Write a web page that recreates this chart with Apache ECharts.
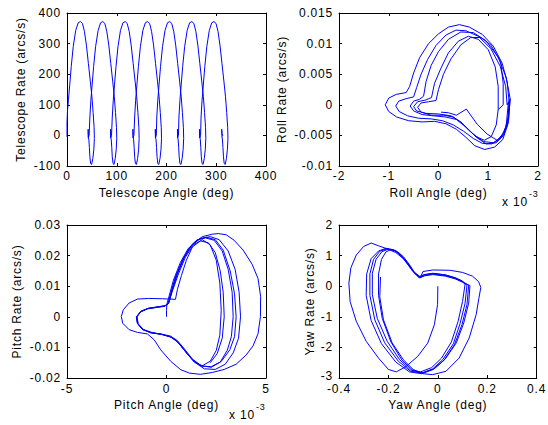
<!DOCTYPE html>
<html>
<head>
<meta charset="utf-8">
<script src="https://cdn.jsdelivr.net/npm/echarts@6/dist/echarts.min.js"></script>
<style>
  html, body { margin: 0; padding: 0; background: #fff; }
  #chart { width: 548px; height: 425px; }
  #chart svg text { letter-spacing: 0.8px; }
</style>
</head>
<body>
<div id="chart"></div>
<script>
// ---------- Telescope: angle (deg) vs rate (arcs/s) ----------
const telescopePath = [
  [0,-5],[0,40],[1,80],[3,118],[5.5,165],[8.5,225],[12.5,290],[17.5,343],[22.5,368],[27,372],[31,366],[35,340],[39,295],[43,235],[47,175],[50,128],[52.5,75],[54.5,25],[55,-10],[54,-45],[52,-75],[49.5,-95],[47.5,-92],[46,-70],[45,-40],[44,-15],[43,-5],[42.5,20],[42.7,-8],[44.5,0],
  [46,60],[48,115],[50.5,165],[53.5,225],[57.5,290],[62.5,343],[67.5,368],[72,372],[76,366],[80,340],[84,295],[88,235],[92,175],[95,128],[97.5,75],[99.5,25],[100,-10],[99,-45],[97,-75],[94.5,-95],[92.5,-92],[91,-70],[90,-40],[89,-15],[88,-5],[87.5,20],[87.7,-8],[89.5,0],
  [91,60],[93,115],[95.5,165],[98.5,225],[102.5,290],[107.5,343],[112.5,368],[117,372],[121,366],[125,340],[129,295],[133,235],[137,175],[140,128],[142.5,75],[144.5,25],[145,-10],[144,-45],[142,-75],[139.5,-95],[137.5,-92],[136,-70],[135,-40],[134,-15],[133,-5],[132.5,20],[132.7,-8],[134.5,0],
  [136,60],[138,115],[140.5,165],[143.5,225],[147.5,290],[152.5,343],[157.5,368],[162,372],[166,366],[170,340],[174,295],[178,235],[182,175],[185,128],[187.5,75],[189.5,25],[190,-10],[189,-45],[187,-75],[184.5,-95],[182.5,-92],[181,-70],[180,-40],[179,-15],[178,-5],[177.5,20],[177.7,-8],[179.5,0],
  [180.5,60],[182.5,115],[185,165],[188,225],[192,290],[197,343],[202,368],[206.5,372],[210.5,366],[214.5,340],[218.5,295],[222.5,235],[226.5,175],[229.5,128],[232,75],[234,25],[234.5,-10],[233.5,-45],[231.5,-75],[229,-95],[227,-92],[225.5,-70],[224.5,-40],[223.5,-15],[222.5,-5],[222,20],[222.2,-8],[224,0],
  [225,60],[227,115],[229.5,165],[232.5,225],[236.5,290],[241.5,343],[246.5,368],[251,372],[255,366],[259,340],[263,295],[267,235],[271,175],[274,128],[276.5,75],[278.5,25],[279,-10],[278,-45],[276,-75],[273.5,-95],[271.5,-92],[270,-70],[269,-40],[268,-15],[267,-5],[266.5,20],[266.7,-8],[268.5,0],
  [269.5,60],[271.5,115],[274,165],[277,225],[281,290],[286,343],[291,368],[295.5,372],[299.5,366],[303.5,340],[307.5,295],[311.5,235],[315.5,175],[318.5,128],[321,75],[323,25],[323.5,-10],[322.5,-45],[320.5,-75],[318,-95],[316,-92],[314.5,-70],[313.5,-40],[312.5,-15],[311.5,-5],[311,20],[311.5,5],[313,0],[312,-3]
];
const telescopeXTicks = [0, 400, 100];
const telescopeYTicks = [-100, 400, 100];

// ---------- Roll: angle (x 10^-3 deg) vs rate (arcs/s) ----------
const rollPath = [
  [0.05,-0.0012],[0.2,-0.0013],[0.36,-0.0017],[0.56,-0.0007],[0.63,-0.0015],[0.78,-0.0032],[0.98,-0.0048],[1.18,-0.0058],[1.32,-0.0045],[1.4,-0.002],[1.42,0.0005],
  [1.39,-0.0033],[1.29,-0.0057],[1.13,-0.0069],[0.93,-0.0073],[0.73,-0.0067],[0.55,-0.0053],[0.36,-0.004],[0.15,-0.0031],[-0.08,-0.0027],[-0.33,-0.0028],[-0.6,-0.0026],[-0.84,-0.002],[-1.0,-0.0011],[-1.07,0.0],[-1.0,0.0011],[-0.85,0.0017],[-0.65,0.002],[-0.58,0.003],[-0.5,0.0052],[-0.38,0.0077],[-0.2,0.01],[0.0,0.0116],[0.2,0.0127],[0.42,0.0131],[0.62,0.0127],[0.88,0.0115],[1.1,0.0096],[1.28,0.0068],[1.38,0.0037],[1.42,0.0005],
  [1.4,0.0],[1.36,-0.0035],[1.24,-0.0056],[1.07,-0.0064],[0.88,-0.0063],[0.7,-0.0055],[0.5,-0.0043],[0.3,-0.0033],[0.08,-0.0026],[-0.15,-0.0023],[-0.4,-0.0022],[-0.62,-0.0018],[-0.79,-0.0011],[-0.86,-0.0002],[-0.8,0.0006],[-0.65,0.001],[-0.5,0.0013],[-0.44,0.0028],[-0.35,0.005],[-0.22,0.0074],[-0.05,0.0097],[0.15,0.0114],[0.35,0.0122],[0.55,0.0121],[0.8,0.0112],[1.05,0.0092],[1.24,0.0063],[1.35,0.003],[1.38,0.0],
  [1.44,0.001],[1.41,-0.0025],[1.31,-0.005],[1.16,-0.0062],[0.96,-0.0064],[0.76,-0.0053],[0.56,-0.0037],[0.36,-0.0024],[0.15,-0.002],[-0.1,-0.0018],[-0.33,-0.0016],[-0.5,-0.001],[-0.57,-0.0002],[-0.5,0.0006],[-0.38,0.0009],[-0.3,0.0014],[-0.25,0.0038],[-0.15,0.0064],[0.0,0.0087],[0.2,0.0107],[0.45,0.0119],[0.7,0.0118],[0.95,0.0105],[1.2,0.0078],[1.36,0.0045],[1.44,0.001],
  [1.43,0.0],[1.4,-0.003],[1.28,-0.0052],[1.1,-0.0062],[0.9,-0.006],[0.7,-0.0048],[0.5,-0.0032],[0.3,-0.002],[0.1,-0.0017],[-0.15,-0.0017],[-0.35,-0.0012],[-0.42,-0.0004],[-0.35,0.0003],[-0.2,0.0005],[-0.05,0.0007],[0.0,0.0025],[0.1,0.005],[0.25,0.0075],[0.45,0.0098],[0.65,0.011],[0.85,0.011],[1.05,0.0098],[1.25,0.007],[1.3,0.0035],[1.3,0.0],
  [1.2,-0.0008],[1.16,-0.0033],[1.06,-0.0052],[0.92,-0.0058],[0.76,-0.0052],[0.6,-0.0041],[0.45,-0.0028],[0.25,-0.0018],[0.0,-0.0015],[-0.25,-0.0014],[-0.44,-0.001],[-0.5,-0.0003],[-0.42,0.0005],[-0.25,0.0008],[-0.14,0.0012],[-0.08,0.0035],[0.05,0.006],[0.2,0.0085],[0.4,0.0104],[0.6,0.0112],[0.8,0.0107],[1.0,0.009],[1.14,0.0062],[1.2,0.003],[1.2,-0.0008]
];
const rollXTicks = [-2, 2, 1];
const rollYTicks = [-0.01, 0.015, 0.005];

// ---------- Pitch: angle (x 10^-3 deg) vs rate (arcs/s) ----------
const pitchPath = [
  [0,0],[0,0.002],[0.02,0.0042],
  [0.12,0.0065],[0.35,0.012],[0.7,0.0178],[1.08,0.0222],[1.5,0.025],[1.95,0.0258],[2.4,0.025],[2.8,0.0215],[3.1,0.0155],[3.3,0.008],[3.35,0.0],[3.26,-0.0065],[3.05,-0.011],[2.7,-0.0148],[2.25,-0.0165],[1.75,-0.016],[1.3,-0.0138],[0.9,-0.0105],[0.55,-0.0078],[0.2,-0.0063],[-0.3,-0.0056],[-0.8,-0.0052],[-1.2,-0.0041],[-1.45,-0.0022],[-1.5,0.0],[-1.3,0.0017],[-0.95,0.0027],[-0.45,0.0032],[-0.1,0.0035],[0.08,0.0042],
  [0.2,0.0075],[0.45,0.013],[0.8,0.0185],[1.15,0.0225],[1.55,0.0252],[2.0,0.026],[2.45,0.0252],[2.85,0.0218],[3.2,0.015],[3.42,0.0075],[3.5,0.0],[3.42,-0.0065],[3.18,-0.0108],[2.75,-0.0146],[2.25,-0.0163],[1.75,-0.0161],[1.3,-0.014],[0.88,-0.0108],[0.52,-0.008],[0.18,-0.0065],[-0.3,-0.0057],[-0.8,-0.0052],[-1.22,-0.0041],[-1.47,-0.0021],[-1.52,0.0],[-1.3,0.0016],[-0.95,0.0026],[-0.45,0.0031],[-0.1,0.0034],[0.1,0.0044],
  [0.3,0.0085],[0.6,0.014],[0.95,0.0195],[1.35,0.0235],[1.8,0.0252],[2.2,0.0235],[2.5,0.0185],[2.68,0.011],[2.75,0.002],[2.68,-0.006],[2.5,-0.011],[2.2,-0.0145],[1.8,-0.016],[1.4,-0.0148],[1.0,-0.0118],[0.65,-0.0088],[0.3,-0.0068],[-0.2,-0.0058],[-0.7,-0.0052],[-1.15,-0.0042],[-1.42,-0.0023],[-1.48,0.0],[-1.28,0.0018],[-0.9,0.0028],[-0.4,0.0033],[-0.05,0.0037],[0.12,0.0046],
  [0.25,0.008],[0.5,0.0135],[0.85,0.019],[1.25,0.0232],[1.7,0.0256],[2.2,0.0262],[2.65,0.0252],[3.1,0.0215],[3.45,0.0155],[3.65,0.008],[3.72,0.0],[3.62,-0.007],[3.35,-0.0118],[2.95,-0.0155],[2.45,-0.0172],[1.9,-0.017],[1.4,-0.0148],[0.95,-0.0113],[0.58,-0.0083],[0.22,-0.0066],[-0.25,-0.0057],[-0.75,-0.0052],[-1.2,-0.0042],[-1.45,-0.0022],[-1.5,0.0],[-1.3,0.0017],[-0.95,0.0027],[-0.45,0.0032],[-0.1,0.0035],[0.1,0.0044],
  [0.28,0.0085],[0.55,0.014],[0.9,0.0195],[1.3,0.0237],[1.8,0.0262],[2.3,0.027],[2.6,0.0272],[3.0,0.0268],[3.4,0.025],[3.85,0.0218],[4.3,0.0172],[4.6,0.0125],[4.73,0.0066],[4.72,0.0],[4.6,-0.0055],[4.35,-0.0095],[4.0,-0.0125],[3.5,-0.0155],[2.9,-0.0172],[2.3,-0.0182],[1.7,-0.0188],[1.15,-0.0184],[0.72,-0.0173],[0.22,-0.0146],[-0.29,-0.0108],[-0.62,-0.0075],[-0.96,-0.0056],[-1.46,-0.0051],[-1.88,-0.0042],[-2.2,-0.0021],[-2.27,0.0001],[-2.17,0.0023],[-1.88,0.0045],[-1.46,0.0058],[-0.9,0.006],[-0.2,0.0059],[0.45,0.0057],
  [0.55,0.009],[0.75,0.0135],[1.0,0.0185],[1.3,0.0228],[1.7,0.0248],[2.1,0.0242],[2.45,0.021],[2.7,0.015],[2.85,0.008],[2.9,0.0],[2.8,-0.007],[2.55,-0.012],[2.2,-0.015]
];
const pitchXTicks = [-5, 5, 5];
const pitchYTicks = [-0.02, 0.03, 0.01];

// ---------- Yaw: angle (deg) vs rate (arcs/s) ----------
const yawPath = [
  [0,0],[-0.001,-0.6],[-0.014,-1.26],[-0.041,-1.86],[-0.081,-2.29],[-0.128,-2.62],[-0.168,-2.8],[-0.2,-2.72],[-0.24,-2.35],[-0.29,-1.8],[-0.33,-1.15],[-0.355,-0.5],[-0.36,0.1],[-0.352,0.6],[-0.33,1.02],[-0.3,1.3],[-0.27,1.41],[-0.24,1.32],[-0.205,1.22],[-0.17,1.1],[-0.14,0.9],[-0.115,0.64],[-0.095,0.44],[-0.075,0.3],[-0.055,0.38],[-0.02,0.42],[0.03,0.37],[0.07,0.27],[0.1,0.15],[0.118,0.03],
  [0.11,-0.57],[0.09,-1.22],[0.063,-1.88],[0.02,-2.4],[-0.02,-2.7],[-0.065,-2.84],[-0.11,-2.78],[-0.16,-2.45],[-0.215,-1.85],[-0.255,-1.1],[-0.275,-0.3],[-0.275,0.4],[-0.26,0.88],[-0.235,1.14],[-0.205,1.22],[-0.175,1.17],[-0.148,1.0],[-0.122,0.75],[-0.1,0.48],[-0.075,0.28],[-0.055,0.35],[-0.02,0.4],[0.03,0.35],[0.07,0.26],[0.1,0.15],[0.125,0.03],
  [0.118,-0.6],[0.098,-1.25],[0.068,-1.9],[0.025,-2.42],[-0.018,-2.72],[-0.065,-2.86],[-0.115,-2.8],[-0.17,-2.48],[-0.228,-1.88],[-0.27,-1.12],[-0.29,-0.3],[-0.288,0.4],[-0.27,0.9],[-0.24,1.15],[-0.21,1.24],[-0.178,1.19],[-0.15,1.02],[-0.125,0.76],[-0.103,0.5],[-0.078,0.3],[-0.057,0.37],[-0.02,0.42],[0.03,0.37],[0.07,0.28],[0.1,0.17],[0.11,0.05],
  [0.1,-0.5],[0.082,-1.15],[0.055,-1.82],[0.015,-2.35],[-0.025,-2.66],[-0.07,-2.8],[-0.11,-2.74],[-0.155,-2.4],[-0.205,-1.8],[-0.245,-1.05],[-0.265,-0.28],[-0.265,0.42],[-0.25,0.88],[-0.226,1.13],[-0.2,1.21],[-0.172,1.15],[-0.145,0.98],[-0.12,0.73],[-0.098,0.47],[-0.073,0.27],[-0.053,0.34],[-0.02,0.38],[0.03,0.33],[0.07,0.24],[0.1,0.13],[0.13,0.02],
  [0.125,-0.55],[0.105,-1.2],[0.075,-1.85],[0.03,-2.38],[-0.015,-2.7],[-0.06,-2.83],[-0.1,-2.76],[-0.145,-2.42],[-0.19,-1.82],[-0.225,-1.05],[-0.24,-0.3],[-0.24,0.4],[-0.228,0.88],[-0.21,1.12],[-0.19,1.2],[-0.165,1.14],[-0.14,0.97],[-0.116,0.72],[-0.095,0.46],[-0.07,0.3],[-0.06,0.48],[-0.02,0.53],[0.05,0.52],[0.1,0.45],[0.14,0.33],[0.165,0.15],[0.174,-0.04],
  [0.166,-0.4],[0.155,-0.93],[0.127,-1.69],[0.086,-2.35],[0.033,-2.78],[-0.021,-2.89],[-0.06,-2.86],[-0.1,-2.72],[-0.14,-2.4],[-0.185,-1.85],[-0.22,-1.1],[-0.235,-0.35],[-0.232,0.3]
];
const yawXTicks = [-0.4, 0.4, 0.2];
const yawYTicks = [-3, 2, 1];

// ---------- Layout / styles ----------
const FONT = "'Liberation Sans', Arial, Helvetica, sans-serif";
const panels = [
  { path: telescopePath, xt: telescopeXTicks, yt: telescopeYTicks, xName: 'Telescope Angle (deg)', yName: 'Telescope Rate (arcs/s)', grid: { left: 67, top: 13, width: 199, height: 153 }, yGap: 40, xMargin: 5, liftMin: false },
  { path: rollPath, xt: rollXTicks, yt: rollYTicks, xName: 'Roll Angle (deg)', yName: 'Roll Rate (arcs/s)', grid: { left: 339, top: 13, width: 199, height: 153 }, yGap: 51, xMargin: 5, liftMin: false },
  { path: pitchPath, xt: pitchXTicks, yt: pitchYTicks, xName: 'Pitch Angle (deg)', yName: 'Pitch Rate (arcs/s)', grid: { left: 67, top: 225, width: 199, height: 153 }, yGap: 44, xMargin: 6, liftMin: false },
  { path: yawPath, xt: yawXTicks, yt: yawYTicks, xName: 'Yaw Angle (deg)', yName: 'Yaw Rate (arcs/s)', grid: { left: 339, top: 225, width: 199, height: 153 }, yGap: 23, xMargin: 6, liftMin: true }
];

const labelStyle = { color: '#000', fontSize: 12, fontFamily: FONT };
const lineBlack = { color: '#000', width: 1 };

const grids = [], xAxes = [], yAxes = [], series = [];
panels.forEach((p, i) => {
  grids.push(Object.assign({ containLabel: false, show: false }, p.grid));
  const base = (t, pos) => ({
    gridIndex: i, type: 'value', position: pos, min: t[0], max: t[1], interval: t[2],
    axisLine: { show: true, onZero: false, lineStyle: lineBlack },
    axisTick: { show: true, inside: true, length: 3, lineStyle: lineBlack },
    splitLine: { show: false }
  });
  const xb = base(p.xt, 'bottom');
  xb.axisLabel = Object.assign({ show: true, margin: p.xMargin, lineHeight: 10 }, labelStyle);
  xb.name = p.xName; xb.nameLocation = 'middle'; xb.nameGap = 21;
  xb.nameTextStyle = Object.assign({}, labelStyle);
  const xt = base(p.xt, 'top'); xt.axisLabel = { show: false };
  const yl = base(p.yt, 'left');
  yl.axisLabel = Object.assign({ show: true, margin: 6, lineHeight: 10 }, labelStyle);
  if (p.liftMin) {
    const minV = p.yt[0];
    yl.axisLabel.formatter = v => (v === minV ? '{m|' + v + '}' : String(v));
    yl.axisLabel.rich = { m: { padding: [0, 0, 5, 0], lineHeight: 10, fontSize: 12, fontFamily: FONT, color: '#000' } };
  }
  yl.name = p.yName; yl.nameLocation = 'middle'; yl.nameGap = p.yGap;
  yl.nameTextStyle = Object.assign({}, labelStyle);
  const yr = base(p.yt, 'right'); yr.axisLabel = { show: false };
  xAxes.push(xb, xt); yAxes.push(yl, yr);
  series.push({
    type: 'line', xAxisIndex: 2 * i, yAxisIndex: 2 * i, data: p.path,
    showSymbol: false, symbol: 'none', smooth: false, clip: true,
    lineStyle: { color: '#0000ff', width: 1 }, silent: true
  });
});

const chart = echarts.init(document.getElementById('chart'), null, { renderer: 'svg', width: 548, height: 425 });
chart.setOption({
  backgroundColor: '#fff',
  animation: false,
  grid: grids, xAxis: xAxes, yAxis: yAxes, series: series,
  graphic: [
    { type: 'text', left: 502, top: 196, style: { text: 'x 10', fill: '#000', fontSize: 12, fontFamily: FONT } },
    { type: 'text', left: 529, top: 189, style: { text: '-3', fill: '#000', fontSize: 9, fontFamily: FONT } },
    { type: 'text', left: 229, top: 409, style: { text: 'x 10', fill: '#000', fontSize: 12, fontFamily: FONT } },
    { type: 'text', left: 256, top: 402, style: { text: '-3', fill: '#000', fontSize: 9, fontFamily: FONT } }
  ]
});
</script>
</body>
</html>
